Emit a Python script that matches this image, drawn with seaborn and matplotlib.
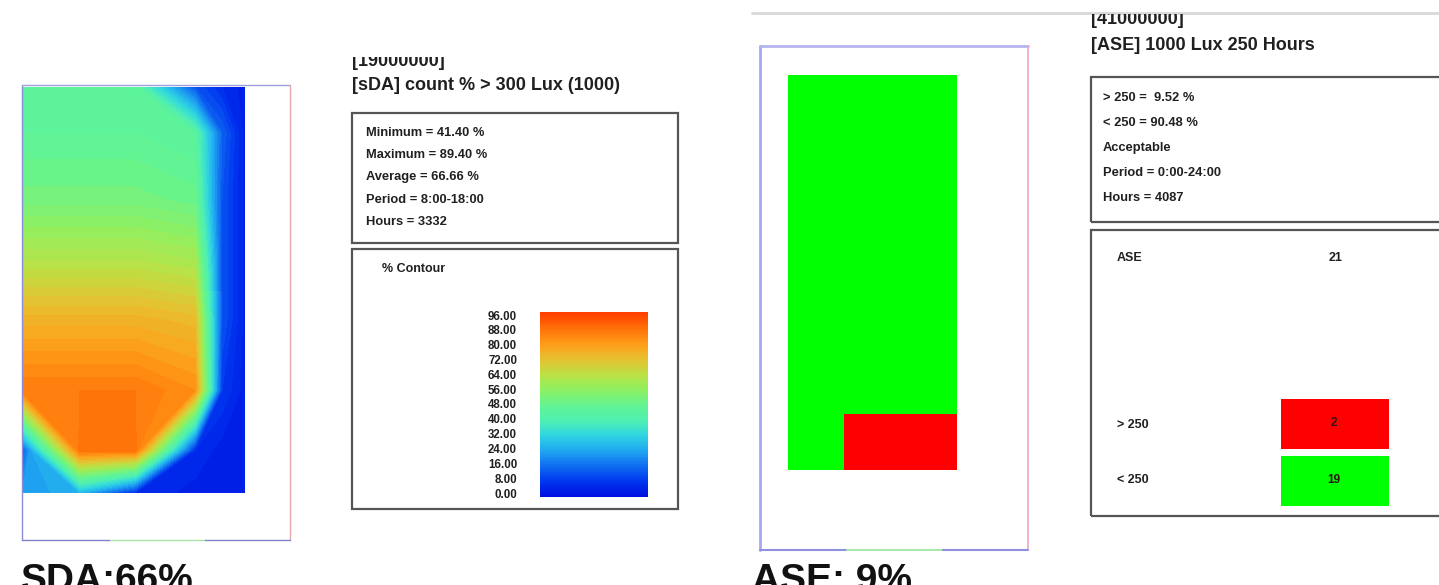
import numpy as np
import seaborn as sns
import matplotlib.pyplot as plt
from matplotlib.colors import LinearSegmentedColormap, ListedColormap
from matplotlib.patches import Rectangle
from matplotlib.lines import Line2D
from matplotlib.transforms import Bbox, TransformedBbox

# ---------------- data ----------------
# sDA sensor readings (% of occupied hours above 300 lux)
sda_x = [0, 58, 113, 173, 200, 223]          # sensor columns across the room
sda_y = [0, 46, 113, 173, 233, 303, 363, 406]  # sensor rows from the top wall
sda_grid = [
    [46, 46, 45, 12, 6, 3],
    [46, 46, 46, 44, 14, 3],
    [51, 51, 51, 49, 12, 3],
    [62, 62, 62, 60, 12, 3],
    [75, 75, 75, 73, 12, 3],
    [86, 86, 86, 82, 8, 3],
    [12, 88, 88, 6, 3, 3],
    [22, 26, 6, 3, 3, 3],
]
contour_levels = [0, 8, 16, 24, 32, 40, 48, 56, 64, 72, 80, 88, 96]
contour_colors = ["#0010e0", "#0038f0", "#1070f0", "#20a8f0", "#30d8e0", "#50f0b0",
                  "#64f490", "#90f060", "#bce044", "#e8c030", "#ff9c18", "#ff7008", "#ff4000"]
sda_header = "[19000000]"
sda_title = "[sDA] count % > 300 Lux (1000)"
sda_stats = ["Minimum = 41.40 %", "Maximum = 89.40 %", "Average = 66.66 %",
             "Period = 8:00-18:00", "Hours = 3332"]
sda_label = "SDA:66%"

# ASE sensor grid: 1 = point above 1000 lux for more than 250 hours
ase_grid = [
    [0, 0, 0],
    [0, 0, 0],
    [0, 0, 0],
    [0, 0, 0],
    [0, 0, 0],
    [0, 0, 0],
    [0, 1, 1],
]
ase_header = "[41000000]"
ase_title = "[ASE] 1000 Lux 250 Hours"
ase_period = "Period = 0:00-24:00"
ase_hours = "Hours = 4087"
ase_status = "Acceptable"
ase_label = "ASE: 9%"

# ---------------- figure helpers (pixel layout) ----------------
W, H = 1439, 585
sns.set_theme(style="white")
plt.rcParams["font.family"] = ["Liberation Sans", "DejaVu Sans"]

fig = plt.figure(figsize=(W / 100, H / 100), dpi=100)
fig.patch.set_facecolor("white")
INK = "#202020"


def px_axes(x0, y0, x1, y1):
    return fig.add_axes([x0 / W, 1 - y1 / H, (x1 - x0) / W, (y1 - y0) / H])


def px_text(x, y, s, **kw):
    kw.setdefault("va", "center")
    kw.setdefault("color", INK)
    return fig.text(x / W, 1 - y / H, s, **kw)


def px_line(xs, ys, color, lw=1.0):
    fig.add_artist(Line2D([x / W for x in xs], [1 - y / H for y in ys],
                          color=color, lw=lw, transform=fig.transFigure))


def px_box(x0, y0, x1, y1, ec="#555555", lw=1.6):
    fig.add_artist(Rectangle((x0 / W, 1 - y1 / H), (x1 - x0) / W, (y1 - y0) / H,
                             transform=fig.transFigure, fill=False, ec=ec, lw=lw))


def clip_above(t, y_top):
    box = Bbox.from_extents(0, 0, 1, 1 - y_top / H)
    t.set_clip_box(TransformedBbox(box, fig.transFigure))
    t.set_clip_on(True)


cmap = LinearSegmentedColormap.from_list(
    "pct", [(v / 96, c) for v, c in zip(contour_levels, contour_colors)])

# ---------------- sDA panel ----------------
ax = px_axes(22, 87, 245, 493)
z = np.array(sda_grid, dtype=float)
ax.contourf(sda_x, sda_y, z, levels=np.arange(0, 97, 2), cmap=cmap, vmin=0, vmax=96)
ax.set_xlim(sda_x[0], sda_x[-1])
ax.set_ylim(sda_y[-1], sda_y[0])
ax.axis("off")

# room outline
px_line([22, 22], [85, 540], "#8c8cd8")
px_line([22, 290], [85, 85], "#a0a0dc")
px_line([290, 290], [85, 540], "#e6a8b0")
px_line([22, 110], [540, 540], "#8080d0")
px_line([110, 205], [540, 540], "#a8e4a8")
px_line([205, 290], [540, 540], "#8080d0")

t = px_text(352, 61, sda_header, fontsize=13, fontweight="bold")
clip_above(t, 57)
px_text(352, 85, sda_title, fontsize=13, fontweight="bold")

px_box(352, 113, 678, 243)
for i, s in enumerate(sda_stats):
    px_text(366, 133 + 22.2 * i, s, fontsize=9.3, fontweight="bold")

px_box(352, 249, 678, 509)
px_text(382, 269, "% Contour", fontsize=9, fontweight="bold")

# colour scale
cax = px_axes(540, 312, 648, 497)
sns.heatmap(np.linspace(96, 0, 96)[:, None], ax=cax, cmap=cmap, vmin=0, vmax=96,
            cbar=False, xticklabels=False, yticklabels=False)
lax = px_axes(540, 315, 648, 493)
lax.patch.set_alpha(0)
for sp in lax.spines.values():
    sp.set_visible(False)
lax.set_ylim(0, 96)
lax.set_xticks([])
lax.set_yticks(contour_levels)
lax.set_yticklabels([f"{v:.2f}" for v in contour_levels], fontsize=8.3,
                    fontweight="bold", color=INK)
lax.tick_params(axis="y", length=0, pad=16.5)

px_text(21, 591, sda_label, fontsize=28, fontweight="bold", va="baseline", color="#111111")

# ---------------- ASE panel ----------------
g = np.array(ase_grid)
n_total = g.size
n_over = int(g.sum())
n_under = n_total - n_over
pct_over = 100 * n_over / n_total
pct_under = 100 * n_under / n_total

green, red = "#00ff00", "#ff0000"
gax = px_axes(788, 75, 957, 470)
sns.heatmap(g, ax=gax, cmap=ListedColormap([green, red]), vmin=0, vmax=1,
            cbar=False, xticklabels=False, yticklabels=False)

px_line([752, 1439], [13, 13], "#d8d8d8", lw=2)

px_line([760, 760], [46, 550], "#a8a8f0", lw=2)
px_line([760, 1028], [46, 46], "#b4b4f0", lw=2)
px_line([1028, 1028], [46, 550], "#f0a8b8", lw=1.2)
px_line([760, 847], [550, 550], "#9090e0", lw=1.5)
px_line([847, 943], [550, 550], "#a8e8a8", lw=1.5)
px_line([943, 1028], [550, 550], "#9090e0", lw=1.5)

t = px_text(1091, 20, ase_header, fontsize=13, fontweight="bold")
clip_above(t, 14)
px_text(1091, 45, ase_title, fontsize=13, fontweight="bold")

px_box(1091, 77, 1460, 222)
ase_stats = [f"> 250 = {pct_over:5.2f} %", f"< 250 = {pct_under:.2f} %",
             ase_status, ase_period, ase_hours]
for i, s in enumerate(ase_stats):
    px_text(1103, 98 + 25 * i, s, fontsize=9.3, fontweight="bold")

px_box(1091, 230, 1460, 516)
px_text(1117, 258, "ASE", fontsize=9, fontweight="bold")
px_text(1336, 258, str(n_total), fontsize=9, fontweight="bold", ha="center")
px_text(1117, 425, "> 250", fontsize=9, fontweight="bold")
px_text(1117, 480, "< 250", fontsize=9, fontweight="bold")

bax = px_axes(1276.5, 394.5, 1391.5, 508.5)
sns.heatmap(np.array([[1], [0]]), ax=bax, cmap=ListedColormap([green, red]), vmin=0, vmax=1,
            annot=np.array([[n_over], [n_under]]), fmt="d", linewidths=5, linecolor="white",
            cbar=False, xticklabels=False, yticklabels=False,
            annot_kws=dict(color="#331111", fontsize=8.5, fontweight="bold"))

px_text(752, 591, ase_label, fontsize=28, fontweight="bold", va="baseline", color="#111111")

fig.savefig("out.png", dpi=100, facecolor="white")
